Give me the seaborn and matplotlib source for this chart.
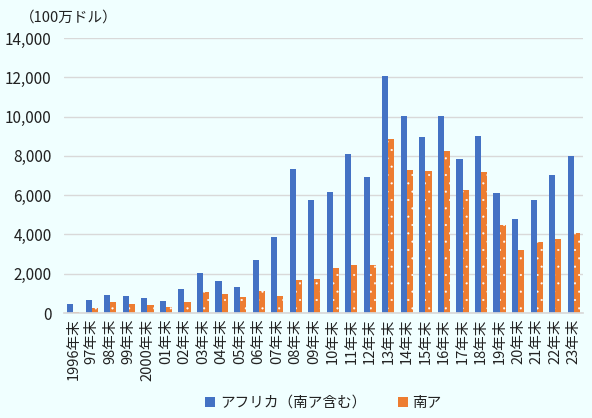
import matplotlib
matplotlib.use("Agg")
import matplotlib.pyplot as plt
import seaborn as sns
import pandas as pd

years = ["1996年末", "97年末", "98年末", "99年末", "2000年末", "01年末", "02年末", "03年末",
         "04年末", "05年末", "06年末", "07年末", "08年末", "09年末", "10年末", "11年末",
         "12年末", "13年末", "14年末", "15年末", "16年末", "17年末", "18年末", "19年末",
         "20年末", "21年末", "22年末", "23年末"]
africa = [475, 680, 930, 880, 780, 630, 1240, 2050, 1650, 1340, 2720, 3890, 7320, 5730,
          6140, 8080, 6910, 12060, 10020, 8950, 10020, 7830, 9000, 6090, 4810, 5730, 7010, 7980]
south_africa = [65, 270, 577, 475, 424, 322, 577, 1088, 985, 832, 1139, 883, 1700, 1750,
                2310, 2460, 2460, 8850, 7270, 7215, 8240, 6240, 7160, 4460, 3230, 3590, 3790, 4050]
series_names = ["アフリカ（南ア含む）", "南ア"]

df = pd.DataFrame({
    "year": years * 2,
    "value": africa + south_africa,
    "series": [series_names[0]] * len(years) + [series_names[1]] * len(years),
})

sns.set_theme(style="white")
plt.rcParams['font.family'] = ['Noto Sans CJK JP', 'DejaVu Sans']
plt.rcParams['hatch.linewidth'] = 0.3

bg = "#F0FFFF"
fig = plt.figure(figsize=(5.92, 4.18), dpi=100, facecolor=bg)
ax = fig.add_axes([64/592, 1 - 313/418, (583-64)/592, (313-38)/418])
ax.set_facecolor(bg)

sns.barplot(data=df, x="year", y="value", hue="series", order=years,
            hue_order=series_names, palette=["#4472C4", "#ED7D31"],
            width=0.66, gap=0.0, saturation=1, ax=ax, legend=True, linewidth=0)

for bar in ax.containers[1]:
    bar.set_hatch("..")
    bar.set_edgecolor("white")
    bar.set_linewidth(0)

ax.set_ylim(0, 14000)
ax.set_xlim(-0.5, len(years) - 0.5)
ax.set_yticks(range(0, 14001, 2000))
ax.set_yticklabels([f"{v:,}" for v in range(0, 14001, 2000)])
ax.yaxis.grid(True, color="#D9D9D9", linewidth=1)
ax.set_axisbelow(True)
for s in ["top", "right", "left"]:
    ax.spines[s].set_visible(False)
ax.spines["bottom"].set_color("#D9D9D9")
ax.tick_params(axis="y", length=0, labelsize=11, colors="#222222", pad=9)
ax.tick_params(axis="x", length=0, labelsize=10.5, colors="#222222", rotation=90, pad=4)
ax.set_xlabel("")
ax.set_ylabel("")

leg = ax.legend(loc="lower center", bbox_to_anchor=(0.5, -0.40), ncol=2, frameon=False,
                fontsize=10.5, handlelength=0.7, handleheight=0.7, handletextpad=0.3,
                columnspacing=2.2)
for t in leg.get_texts():
    t.set_color("#222222")

fig.text(20/592, 1 - 18/418, "（100万ドル）", fontsize=10.5, color="#222222", va="center", ha="left")

fig.savefig("out.png", dpi=100, facecolor=bg)
